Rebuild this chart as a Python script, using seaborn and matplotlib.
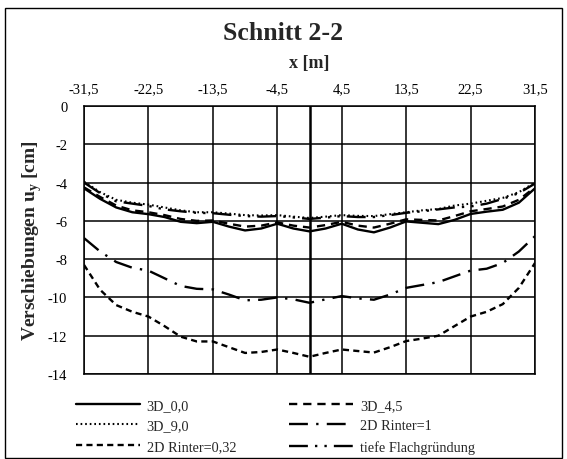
import matplotlib
matplotlib.use("Agg")
import matplotlib.pyplot as plt
import seaborn as sns
import numpy as np
import pandas as pd
from matplotlib.patches import Rectangle

# ---- data ----
x_m = [-31.5, -29.25, -27, -24.75, -22.5, -20.25, -18, -15.75, -13.5, -11.25, -9, -6.75, -4.5, -2.25,
       0, 2.25, 4.5, 6.75, 9, 11.25, 13.5, 15.75, 18, 20.25, 22.5, 24.75, 27, 29.25, 31.5]

u_3d_00 = [-4.3, -4.85, -5.3, -5.55, -5.65, -5.8, -6.05, -6.12, -6.05, -6.3, -6.5, -6.4, -6.15, -6.4,
           -6.55, -6.4, -6.15, -6.45, -6.6, -6.35, -6.03, -6.1, -6.17, -5.95, -5.64, -5.52, -5.42, -5.05, -4.3]
u_3d_45 = [-4.25, -4.75, -5.2, -5.45, -5.55, -5.7, -5.9, -6.0, -5.98, -6.15, -6.3, -6.25, -6.08, -6.25,
           -6.35, -6.22, -6.05, -6.25, -6.35, -6.15, -5.92, -5.95, -5.98, -5.75, -5.5, -5.38, -5.25, -4.9, -4.25]
u_3d_90 = [-3.95, -4.5, -4.9, -5.05, -5.15, -5.3, -5.45, -5.55, -5.55, -5.62, -5.7, -5.72, -5.7, -5.78,
           -5.85, -5.78, -5.7, -5.74, -5.75, -5.65, -5.55, -5.45, -5.38, -5.2, -5.1, -4.95, -4.8, -4.5, -4.0]
u_2d_r1 = [-6.9, -7.6, -8.15, -8.45, -8.6, -9.0, -9.4, -9.55, -9.58, -9.85, -10.15, -10.12, -10.0, -10.1,
           -10.28, -10.1, -9.93, -10.05, -10.12, -9.85, -9.5, -9.35, -9.2, -8.9, -8.6, -8.5, -8.2, -7.6, -6.8]
u_2d_r032 = [-8.3, -9.6, -10.4, -10.75, -11.0, -11.5, -12.05, -12.3, -12.3, -12.6, -12.9, -12.85, -12.72, -12.9,
             -13.1, -12.9, -12.72, -12.8, -12.88, -12.6, -12.28, -12.15, -12.0, -11.5, -11.0, -10.75, -10.35, -9.5, -8.2]
u_tief = [-4.0, -4.55, -4.98, -5.1, -5.22, -5.4, -5.5, -5.58, -5.6, -5.68, -5.75, -5.78, -5.75, -5.82,
          -5.9, -5.83, -5.75, -5.8, -5.8, -5.7, -5.58, -5.5, -5.4, -5.3, -5.25, -5.1, -4.85, -4.55, -4.05]

series_names = ["3D_0,0", "3D_4,5", "3D_9,0", "2D Rinter=1", "2D Rinter=0,32", "tiefe Flachgründung"]
x_ticks = [-31.5, -22.5, -13.5, -4.5, 4.5, 13.5, 22.5, 31.5]
x_ticklabels = ["-31,5", "-22,5", "-13,5", "-4,5", "4,5", "13,5", "22,5", "31,5"]
y_ticks = [0, -2, -4, -6, -8, -10, -12, -14]

# ---- style ----
sns.set_style("white")
plt.rcParams['font.family'] = ['Liberation Serif', 'DejaVu Serif']
plt.rcParams['axes.unicode_minus'] = False

fig = plt.figure(figsize=(5.67, 4.60), dpi=100)
ax = fig.add_axes([84/567, 1 - 375/460, (535 - 84)/567, (375 - 107)/460])

values = [u_3d_00, u_3d_45, u_3d_90, u_2d_r1, u_2d_r032, u_tief]
styles = {
    "3D_0,0": dict(linestyle='-', lw=1.7),
    "3D_4,5": dict(linestyle=(0, (3.5, 2.5)), lw=1.7),
    "3D_9,0": dict(linestyle=(0, (0.8, 1.4)), lw=1.5),
    "2D Rinter=1": dict(linestyle=(0, (8, 3.5, 1, 3.5)), lw=1.7),
    "2D Rinter=0,32": dict(linestyle=(0, (2.6, 1.8)), lw=1.7),
    "tiefe Flachgründung": dict(linestyle=(0, (8, 3, 1, 3, 1, 3)), lw=1.7),
}

df = pd.DataFrame({"x": np.tile(x_m, len(series_names)),
                   "u": np.concatenate(values),
                   "serie": np.repeat(series_names, len(x_m))})

# grid
for xv in x_ticks:
    ax.axvline(xv, color='black', lw=1.1, zorder=1)
ax.axvline(0, color='black', lw=1.8, zorder=1)
for yv in y_ticks:
    ax.axhline(yv, color='black', lw=1.1, zorder=1)

for name in series_names:
    sub = df[df["serie"] == name]
    sns.lineplot(data=sub, x="x", y="u", ax=ax, color='black', label=name,
                 zorder=3, **styles[name])

ax.set_xlim(-31.5, 31.5)
ax.set_ylim(-14, 0)
ax.xaxis.tick_top()
ax.xaxis.set_label_position('top')
ax.set_xticks(x_ticks)
ax.set_xticklabels(x_ticklabels)
ax.set_yticks(y_ticks)
ax.set_yticklabels([str(v) for v in y_ticks])
ax.tick_params(axis='both', length=0, labelsize=10.5, colors='black')
ax.tick_params(axis='x', pad=8)
ax.tick_params(axis='y', pad=12)
for sp in ax.spines.values():
    sp.set_color('black')
    sp.set_linewidth(1.1)

ax.set_xlabel("x [m]", fontsize=13, fontweight='bold', labelpad=11)
ax.set_ylabel(r"Verschiebungen u$_\mathregular{y}$ [cm]", fontsize=14, fontweight='bold', labelpad=3)
fig.text(0.5, 1 - 33/460, "Schnitt 2-2", ha='center', va='center', fontsize=18.5, fontweight='bold')

# legend (row order matches reference)
h, l = ax.get_legend_handles_labels()
order = [0, 2, 4, 1, 3, 5]
ax.legend([h[i] for i in order], [l[i] for i in order], ncol=2,
          loc='upper left', bbox_to_anchor=(63/567, 1 - 387/460), bbox_transform=fig.transFigure,
          frameon=False, fontsize=10.3, handlelength=4.5, handletextpad=0.45,
          columnspacing=3.7, labelspacing=0.52)

# outer frame
fig.patches.append(Rectangle((5/567, 1 - 459/460), 557/567, 450/460, transform=fig.transFigure,
                             fill=False, edgecolor='black', lw=1.0))

fig.savefig("out.png", dpi=100, facecolor='white')
